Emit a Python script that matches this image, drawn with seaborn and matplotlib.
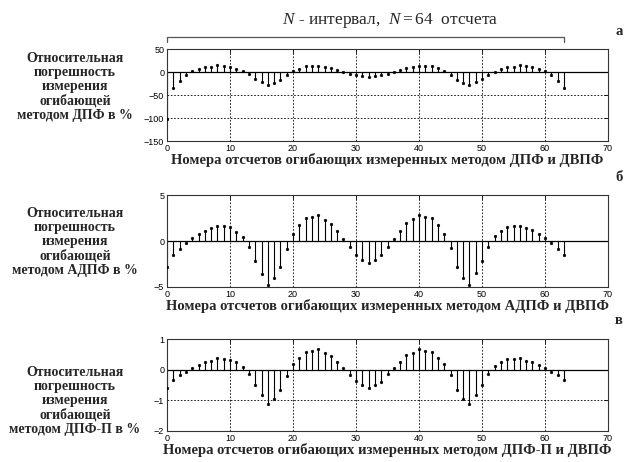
import numpy as np
import pandas as pd
import matplotlib
matplotlib.use("Agg")
import matplotlib.pyplot as plt
import matplotlib.transforms as mtransforms
import seaborn as sns

# Sample numbers of the measured envelope
n = np.arange(64)

# Relative envelope error, DFT method (%)
err_dft = [-103, -35.5, -20, -6, 2, 7, 10, 12, 14.5, 13, 11.6, 7, 1.5, -5, -15, -22,
           -28, -23, -17, -6, 2, 7, 13, 13, 13, 11, 9, 4, 0.5, -4, -7.5, -9,
           -11, -9, -7.5, -4.5, 0.5, 3.5, 9, 11, 13, 13, 13, 8, 1.5, -6, -17, -23,
           -28, -22, -15.5, -6, 0.5, 7, 11.6, 12, 14.5, 13, 11.6, 7, 2, -6, -20, -35.5]

# Relative envelope error, ADFT method (%)
err_adft = [-2.82, -1.47, -0.92, -0.26, 0.32, 0.73, 1.13, 1.39, 1.61, 1.61, 1.5, 1.03, 0.48, -0.7, -2.2, -3.55,
            -4.83, -4.0, -2.78, -0.84, 0.77, 1.72, 2.49, 2.64, 2.78, 2.27, 1.9, 1.06, 0.26, -0.66, -1.54, -2.01,
            -2.34, -2.01, -1.54, -0.66, 0.26, 1.1, 1.98, 2.36, 2.78, 2.64, 2.49, 1.76, 0.77, -0.81, -2.78, -3.99,
            -4.83, -3.52, -2.17, -0.66, 0.51, 1.06, 1.57, 1.65, 1.65, 1.43, 1.17, 0.77, 0.37, -0.18, -0.88, -1.47]

# Relative envelope error, DFT-P method (%)
err_dftp = [-0.61, -0.33, -0.18, -0.08, 0.05, 0.15, 0.25, 0.29, 0.37, 0.34, 0.33, 0.24, 0.10, -0.13, -0.49, -0.81,
            -1.12, -0.94, -0.65, -0.19, 0.17, 0.39, 0.58, 0.61, 0.66, 0.54, 0.46, 0.25, 0.05, -0.16, -0.38, -0.49,
            -0.59, -0.49, -0.39, -0.15, 0.05, 0.25, 0.47, 0.55, 0.66, 0.61, 0.58, 0.39, 0.18, -0.18, -0.65, -0.94,
            -1.12, -0.81, -0.49, -0.13, 0.11, 0.25, 0.34, 0.34, 0.37, 0.30, 0.25, 0.16, 0.05, -0.08, -0.18, -0.33]

x_ticks = [0, 10, 20, 30, 40, 50, 60, 70]
y_ticks = [[-150, -100, -50, 0, 50], [-5, 0, 5], [-2, -1, 0, 1]]
y_limits = [(-150, 50), (-5, 5), (-2, 1)]
series = [err_dft, err_adft, err_dftp]

x_labels = [
    "Номера отсчетов огибающих измеренных методом ДПФ и ДВПФ",
    "Номера отсчетов огибающих измеренных методом АДПФ и ДВПФ",
    "Номера отсчетов огибающих измеренных методом ДПФ-П и ДВПФ",
]
y_labels = [
    "Относительная\nпогрешность\nизмерения\nогибающей\nметодом ДПФ в %",
    "Относительная\nпогрешность\nизмерения\nогибающей\nметодом АДПФ в %",
    "Относительная\nпогрешность\nизмерения\nогибающей\nметодом ДПФ-П в %",
]
panel_letters = ["а", "б", "в"]

sns.set_theme(style="white")
plt.rcParams["font.family"] = ["Liberation Sans", "DejaVu Sans"]
plt.rcParams["mathtext.fontset"] = "custom"
plt.rcParams["mathtext.rm"] = "Liberation Serif"
plt.rcParams["mathtext.it"] = "Liberation Serif:italic"

fig = plt.figure(figsize=(6.25, 4.62), dpi=100)

left, width, height = 0.2672, 0.7056, 0.199
bottoms = [0.6948, 0.3788, 0.0671]
label_centers = [0.8117, 0.4762, 0.132]
letter_y = [0.931, 0.615, 0.307]

serif = ["Liberation Serif", "DejaVu Serif"]

axes = []
for i, vals in enumerate(series):
    ax = fig.add_axes([left, bottoms[i], width, height])
    axes.append(ax)
    df = pd.DataFrame({"n": n, "err": vals})

    # grid first so stems draw above it
    ax.set_axisbelow(True)
    ax.grid(True, color="black", linestyle=(0, (2, 2)), linewidth=0.6)

    # stems and baseline
    ax.vlines(df["n"], 0, df["err"], colors="black", linewidth=0.8, zorder=2)
    ax.axhline(0, color="black", linewidth=0.9, zorder=2)
    sns.scatterplot(data=df, x="n", y="err", ax=ax, color="black", s=4,
                    marker="o", edgecolor="black", linewidth=0.3, zorder=3, legend=False)

    ax.set_xlim(0, 70)
    ax.set_ylim(*y_limits[i])
    ax.set_xticks(x_ticks)
    ax.set_yticks(y_ticks[i])
    ax.tick_params(direction="in", length=3, width=0.6, labelsize=6.5,
                   top=True, right=True, pad=2, colors="black")
    ax.set_xlabel("")
    ax.set_ylabel("")
    for sp in ax.spines.values():
        sp.set_color("#333333")
        sp.set_linewidth(0.8)

    ax.text(0.5, -0.13, x_labels[i], transform=ax.transAxes, ha="center", va="top",
            fontsize=10.5, fontweight="bold", family=serif)

    # method description to the left of each panel
    fig.text(0.12, label_centers[i], y_labels[i], ha="center", va="center",
             fontsize=10, fontweight="bold", family=serif, linespacing=1.1)

# panel letters
for letter, ly in zip(panel_letters, letter_y):
    fig.text(0.99, ly, letter, ha="center", va="center",
             fontsize=10.5, fontweight="bold", family=serif)

# bracket over the first panel spanning the N-sample interval
ax0 = axes[0]
trans = mtransforms.blended_transform_factory(ax0.transData, ax0.transAxes)
x0, x1 = n[0], n[-1]
ax0.plot([x0, x0, x1, x1], [1.075, 1.13, 1.13, 1.075], transform=trans,
         color="#555555", linewidth=0.9, clip_on=False)
ax0.text(35.4, 1.315, r"$N$ - интервал,  $N = 64$  отсчета", transform=trans,
         ha="center", va="center", fontsize=12.5, family=serif)

fig.savefig("out.png", dpi=100)
